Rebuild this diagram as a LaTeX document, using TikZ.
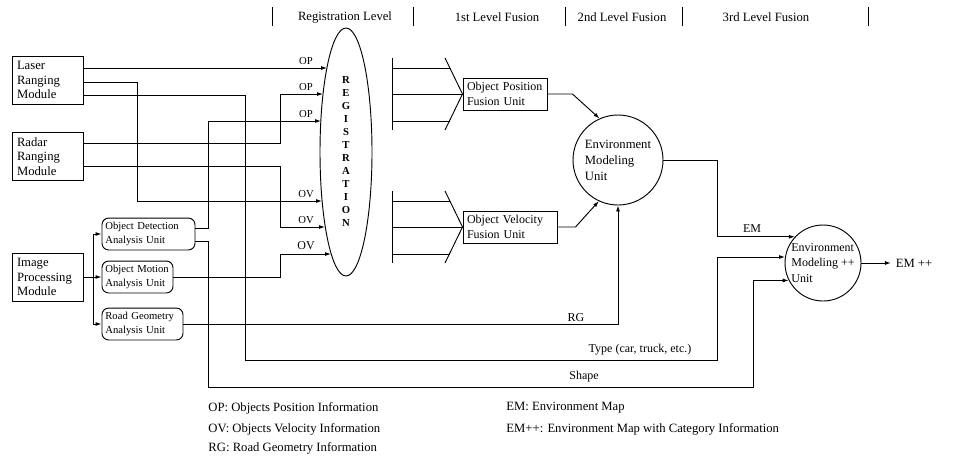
\documentclass[tikz,border=0pt]{standalone}
\usepackage{fontspec}
\setmainfont{Liberation Serif}
\usetikzlibrary{arrows.meta,shapes.geometric}

\begin{document}
\begin{tikzpicture}[
  x=0.75pt, y=-0.75pt, line width=0.7pt,
  modbox/.style={draw, align=left, text width=45.75pt, inner xsep=3.75pt, inner ysep=2pt, minimum height=36pt, font=\fontsize{9.5}{11}\selectfont},
  unitbox/.style={draw, rounded corners=5pt, align=left, inner xsep=2.5pt, minimum height=23pt, font=\fontsize{8}{10}\selectfont},
  fusebox/.style={draw, align=left, inner xsep=3pt, minimum height=22.5pt, font=\fontsize{9}{11}\selectfont},
  envunit/.style={draw, circle, align=left, inner sep=0pt, font=\fontsize{9.5}{12}\selectfont},
  sig/.style={-{Latex[length=4.5pt,width=3pt]}},
  lbl/.style={font=\fontsize{8}{9}\selectfont, inner sep=1pt},
  head/.style={font=\fontsize{9.5}{11}\selectfont},
  legend/.style={font=\fontsize{9.5}{11}\selectfont, anchor=west, inner sep=0pt}
]
\useasboundingbox (0,0) rectangle (956,458);

% level headings
\foreach \x in {272,413,565,682,868}
  \draw (\x,7) -- (\x,26);
\node[head] (hreg) at (345,17) {Registration Level};
\node[head] (hfus1) at (497,17) {1st Level Fusion};
\node[head] (hfus2) at (622,17) {2nd Level Fusion};
\node[head] (hfus3) at (766,17) {3rd Level Fusion};

% sensor modules
\node[modbox] (laser) at (47.5,80) {Laser\\Ranging\\Module};
\node[modbox] (radar) at (47.5,156.5) {Radar\\Ranging\\Module};
\node[modbox] (image) at (47.5,277) {Image\\Processing\\Module};

% analysis units
\node[unitbox, text width=64.75pt] (det) at (148.5,234) {Object Detection\\Analysis Unit};
\node[unitbox, text width=48.25pt] (mot) at (137.5,277) {Object Motion\\Analysis Unit};
\node[unitbox, text width=55.75pt] (road) at (142.5,324) {Road Geometry\\Analysis Unit};

% registration
\node[draw, ellipse, minimum width=39pt, minimum height=186pt, inner sep=0pt,
  align=center, font=\fontsize{8}{9.75}\selectfont\bfseries] (reg) at (346,152)
  {R\\E\\G\\I\\S\\T\\R\\A\\T\\I\\O\\N};
\coordinate (op1) at (327,68);
\coordinate (op2) at (323,94);
\coordinate (op3) at (321,121);
\coordinate (ov1) at (322,201);
\coordinate (ov2) at (325,227);
\coordinate (ov3) at (331,254);

% fusion units
\node[fusebox, text width=57pt] (opf) at (505,94) {Object Position\\Fusion Unit};
\node[fusebox, text width=64.5pt] (ovf) at (510,227) {Object Velocity\\Fusion Unit};
\foreach \u/\c in {opf/94,ovf/227}{
  \draw (392,{\c-36}) -- (392,{\c+36});
  \draw (445,{\c-36}) -- (\u.west) -- (445,{\c+36});
  \draw (392,\c) -- (\u.west);
  \draw (392,{\c-26}) -- (450,{\c-26});
  \draw (392,{\c+27}) -- (450,{\c+27});
}

% environment modeling
\node[envunit, minimum size=67.5pt] (emu) at (618,160) {Environment\\Modeling\\Unit};
\node[envunit, minimum size=57pt, font=\fontsize{9}{11.5}\selectfont] (emm) at (823,263) {Environment\\Modeling ++\\Unit};
\node[font=\fontsize{9.5}{11}\selectfont] (emout) at (914,263) {EM ++};

% sensor signals
\draw[sig] (laser.east |- op1) -- (op1);
\draw[sig] (laser.east |- 0,82) -| (137,201) -- (ov1);
\draw[sig] (laser.east |- 0,95) -| (245,360) -- (717,360) |- (emm.171);
\draw[sig] (radar.east |- 0,143) -| (280,94) -- (op2);
\draw[sig] (radar.east |- 0,166) -| (280,227) -- (ov2);
\draw[sig] (image.east) -- (mot.west);
\draw[sig] (93,277) |- (det.west);
\draw[sig] (93,277) |- (road.west);
\draw[sig] (det.east |- 0,228) -| (208,121) -- (op3);
\draw[sig] (det.east |- 0,241) -| (208,387) -- (753,387) |- (emm.207);
\draw[sig] (mot.east) -| (280,254) -- (ov3);
\draw[sig] (road.east) -| (emu.south);

% fusion and modeling signals
\draw[sig] (opf.east) -- ++(25,0) -- (emu.114);
\draw[sig] (ovf.east) -- ++(18,0) -- (emu.245);
\draw[sig] (emu.east) -- (717,160) |- (emm.137);
\draw[sig] (emm.east) -- (emout.west);

% signal labels
\foreach \n/\y/\t in {lop1/61/OP,lop2/87/OP,lop3/114/OP,lov1/194/OV,lov2/220/OV}
  \node[lbl] (\n) at (306,\y) {\t};
\node[lbl, font=\fontsize{9}{10}\selectfont] (lov3) at (306,246) {OV};
\node[lbl, font=\fontsize{9}{10}\selectfont] (lrg) at (576,318) {RG};
\node[lbl, font=\fontsize{9}{10}\selectfont] (ltype) at (640,350) {Type (car, truck, etc.)};
\node[lbl, font=\fontsize{9}{10}\selectfont] (lshape) at (584,377) {Shape};
\node[lbl, font=\fontsize{9}{10}\selectfont] (lem) at (752,229) {EM};

% legend
\node[legend] (kop) at (208,408) {OP: Objects Position Information};
\node[legend] (kov) at (208,429) {OV: Objects Velocity Information};
\node[legend] (krg) at (208,448) {RG: Road Geometry Information};
\node[legend] (kem) at (506,408) {EM: Environment Map};
\node[legend] (kemp) at (506,429) {EM++: Environment Map with Category Information};
\end{tikzpicture}
\end{document}
